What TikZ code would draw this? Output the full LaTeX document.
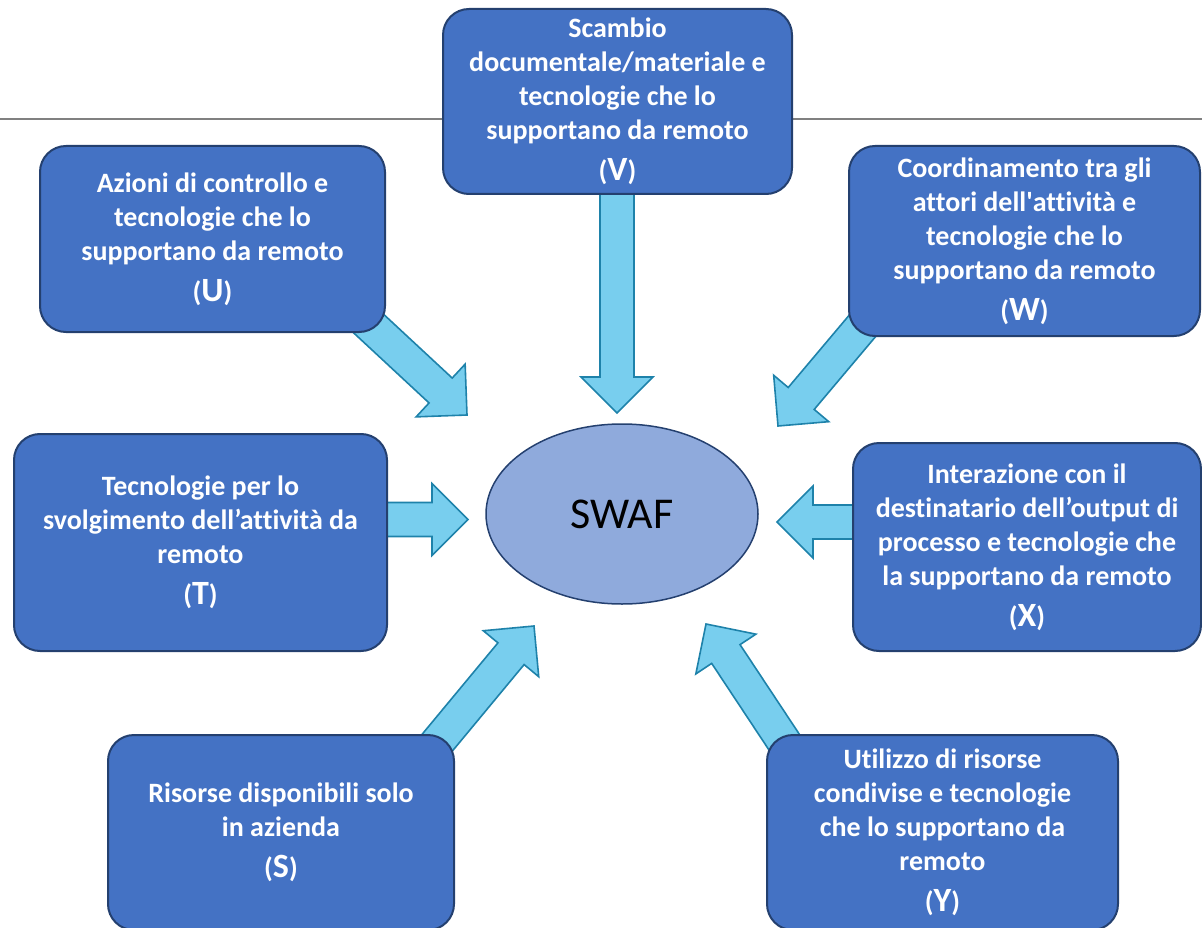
\documentclass[tikz,border=0pt]{standalone}
\usepackage{fontspec}
\setmainfont{Carlito}[Ligatures={TeX,NoCommon}]
\usetikzlibrary{calc,shapes.geometric}
\definecolor{boxfill}{HTML}{4472C4}
\definecolor{boxdraw}{HTML}{24406F}
\definecolor{ellfill}{HTML}{8FAADC}
\definecolor{arrfill}{HTML}{78CEEE}
\definecolor{arrdraw}{HTML}{1E82AA}
\definecolor{rulegray}{HTML}{808080}
\newcommand\blockarrow[2]{%
  \coordinate (ba-h) at ($(#2)!36pt!(#1)$);
  \draw[barrow] ($(#1)!17pt!90:(#2)$) -- ($(ba-h)!17pt!90:(#2)$) -- ($(ba-h)!36pt!90:(#2)$) -- (#2)
     -- ($(ba-h)!36pt!-90:(#2)$) -- ($(ba-h)!17pt!-90:(#2)$) -- ($(#1)!17pt!-90:(#2)$) -- cycle;}
\newcommand\letterline[1]{\\[7pt]({\fontsize{34}{34}\selectfont #1})}
\begin{document}
\begin{tikzpicture}[x=1pt,y=-1pt,
  card/.style={draw=boxdraw, fill=boxfill, line width=2pt, rounded corners=26pt, text=white,
    align=center, font=\bfseries\fontsize{28}{34}\selectfont, inner sep=0pt},
  barrow/.style={draw=arrdraw, fill=arrfill, line width=1.6pt, line join=miter},
  ruleline/.style={draw=rulegray, line width=1.2pt}]
\useasboundingbox (0,0) rectangle (1202,928);
% top rule
\coordinate (ruleL) at (0,119);
\coordinate (ruleR) at (1202,119);
\draw[ruleline] (ruleL) -- (ruleR);
% arrow tails and tips
\coordinate (vA) at (617,185);   \coordinate (vB) at (617,413);
\coordinate (uA) at (340,297);   \coordinate (uB) at (467,415);
\coordinate (wA) at (880,305);   \coordinate (wB) at (778,426);
\coordinate (tA) at (380,519.5); \coordinate (tB) at (468,519.5);
\coordinate (xA) at (860,522);   \coordinate (xB) at (777,522);
\coordinate (sA) at (427,755);   \coordinate (sB) at (534,626);
\coordinate (yA) at (798,763);   \coordinate (yB) at (706,624);
\blockarrow{vA}{vB}
\blockarrow{uA}{uB}
\blockarrow{wA}{wB}
\blockarrow{tA}{tB}
\blockarrow{xA}{xB}
\blockarrow{sA}{sB}
\blockarrow{yA}{yB}
% boxes
\node[card, minimum width=349pt, minimum height=185pt] (V) at (617.5,101.5)
  {Scambio\\documentale/materiale e\\tecnologie che lo\\supportano da remoto\letterline{V}};
\node[card, minimum width=345pt, minimum height=186pt] (U) at (212.5,239)
  {Azioni di controllo e\\tecnologie che lo\\supportano da remoto\letterline{U}};
\node[card, minimum width=351pt, minimum height=190pt] (W) at (1024.5,241)
  {Coordinamento tra gli\\attori dell\textquotesingle attività e\\tecnologie che lo\\supportano da remoto\letterline{W}};
\node[card, minimum width=373pt, minimum height=217pt] (T) at (200.5,542.5)
  {Tecnologie per lo\\svolgimento dell’attività da\\remoto\letterline{T}};
\node[card, minimum width=348pt, minimum height=208pt] (X) at (1027,547)
  {Interazione con il\\destinatario dell’output di\\processo e tecnologie che\\la supportano da remoto\letterline{X}};
\node[card, minimum width=346pt, minimum height=195pt] (S) at (281,832.5)
  {Risorse disponibili solo\\in azienda\letterline{S}};
\node[card, minimum width=351pt, minimum height=195pt] (Y) at (942.5,832.5)
  {Utilizzo di risorse\\condivise e tecnologie\\che lo supportano da\\remoto\letterline{Y}};
% centre
\node[ellipse, draw=boxdraw, fill=ellfill, line width=1.5pt, minimum width=272pt, minimum height=180pt,
  inner sep=0pt, font=\fontsize{44}{44}\selectfont] (swaf) at (622,514) {SWAF};
\end{tikzpicture}
\end{document}
